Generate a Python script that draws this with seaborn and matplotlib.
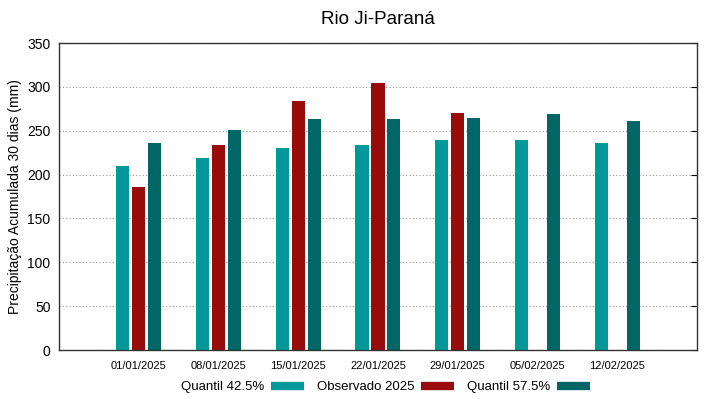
import matplotlib
matplotlib.use('Agg')
import matplotlib.pyplot as plt
from matplotlib.lines import Line2D
import pandas as pd
import numpy as np
import seaborn as sns

datas = ['01/01/2025', '08/01/2025', '15/01/2025', '22/01/2025', '29/01/2025', '05/02/2025', '12/02/2025']
quantil_425 = [210, 219, 230, 234, 239, 240, 236]
observado_2025 = [186, 234, 284, 304, 270, np.nan, np.nan]
quantil_575 = [236, 251, 264, 264, 265, 269, 261]

series = ['Quantil 42.5%', 'Observado 2025', 'Quantil 57.5%']
cores = ['#009999', '#990c0c', '#006666']


def main():
    sns.set_style('white')
    plt.rcParams['font.family'] = ['Liberation Sans', 'DejaVu Sans']
    plt.rcParams['text.color'] = 'black'
    plt.rcParams['xtick.color'] = 'black'
    plt.rcParams['ytick.color'] = 'black'
    plt.rcParams['axes.labelcolor'] = 'black'

    df = pd.DataFrame({'data': datas * 3,
                       'valor': quantil_425 + observado_2025 + quantil_575,
                       'serie': [s for s in series for _ in datas]})

    fig = plt.figure(figsize=(7.19, 3.99), dpi=100)
    ax = fig.add_axes([0.082, 0.1228, 0.8874, 0.7692])
    sns.barplot(data=df, x='data', y='valor', hue='serie', hue_order=series,
                palette=cores, width=0.6, gap=0.18, saturation=1, ax=ax,
                legend=False, errorbar=None, linewidth=0)

    ax.set_xlim(-1, 7)
    ax.set_ylim(0, 350)
    ax.set_yticks(range(0, 351, 50))
    ax.yaxis.grid(True, linestyle=(0, (1, 2)), color='#999999', linewidth=0.8)
    ax.set_axisbelow(True)
    for s in ax.spines.values():
        s.set_visible(True)
        s.set_color('#333333')
        s.set_linewidth(1)
    ax.tick_params(axis='y', direction='in', length=4, right=True, labelsize=10, pad=6)
    ax.tick_params(axis='x', direction='in', length=4, labelsize=8, pad=8)
    ax.set_xlabel('')
    ax.set_ylabel('Precipitação Acumulada 30 dias (mm)', fontsize=10, labelpad=4)
    ax.set_title('Rio Ji-Paraná', fontsize=13.5, pad=14)

    handles = [Line2D([0], [0], color=c, linewidth=6, solid_capstyle='butt') for c in cores]
    fig.legend(handles, series, loc='center', bbox_to_anchor=(0.536, 0.03),
               ncol=3, frameon=False, markerfirst=False, fontsize=9.5,
               handlelength=2.5, columnspacing=1.0, handletextpad=0.5)

    fig.savefig('out.png', dpi=100)


if __name__ == '__main__':
    main()
